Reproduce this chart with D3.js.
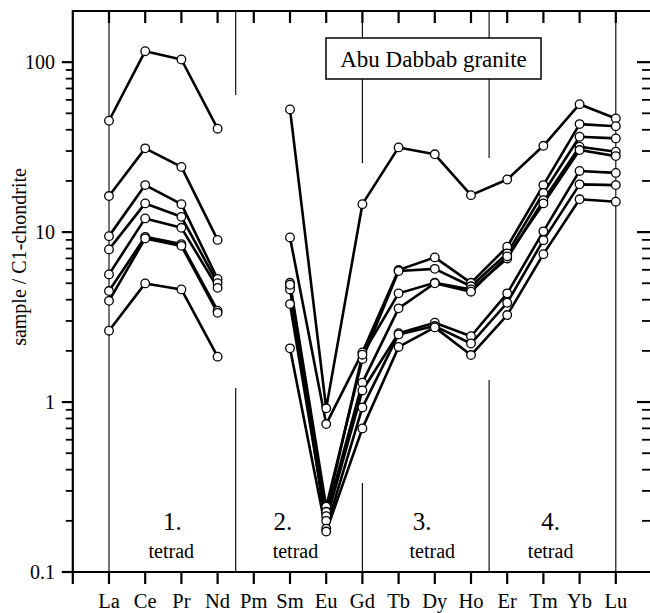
<!DOCTYPE html>
<html>
<head>
<meta charset="utf-8">
<script src="https://cdn.jsdelivr.net/npm/d3@7"></script>
<style>
  html, body { margin: 0; padding: 0; background: #fff; overflow: hidden; }
  svg { display: block; }
</style>
</head>
<body>
<svg id="chart" width="650" height="613" font-family="'Liberation Serif', 'DejaVu Serif', serif"></svg>
<script>
// REE elements along the x axis (Pm is not analysed)
const elements = ["La","Ce","Pr","Nd","Pm","Sm","Eu","Gd","Tb","Dy","Ho","Er","Tm","Yb","Lu"];

// Chondrite-normalised REE patterns, one array per sample (order as in `elements`)
const sample1 = [45.2, 116, 103.7, 40.6, null, 52.7, 0.918, 14.6, 31.5, 28.7, 16.5, 20.4, 32.2, 56.6, 46.6];
const sample2 = [16.3, 31.1, 24.2, 9.0, null, 9.3, 0.742, 1.96, 5.98, 7.1, 5.03, 8.2, 18.9, 43.2, 42.0];
const sample3 = [9.47, 18.9, 14.6, 5.3, null, 5.03, 0.242, 1.79, 5.9, 6.08, 4.8, 7.5, 17.0, 36.4, 35.6];
const sample4 = [7.91, 14.75, 12.3, 5.0, null, 4.81, 0.226, 1.9, 4.36, 5.03, 4.6, 7.0, 15.4, 31.8, 29.7];
const sample5 = [5.64, 12.04, 10.6, 4.7, null, 4.6, 0.213, 1.30, 3.56, 5.0, 4.46, 7.2, 14.75, 30.4, 28.0];
const sample6 = [4.50, 9.38, 8.5, 3.45, null, 3.77, 0.2, 1.17, 2.54, 2.93, 2.44, 4.36, 10.1, 22.9, 22.3];
const sample7 = [3.94, 9.18, 8.3, 3.35, null, 4.9, 0.18, 0.93, 2.5, 2.8, 2.21, 3.84, 8.97, 19.1, 18.9];
const sample8 = [2.63, 4.99, 4.6, 1.85, null, 2.07, 0.173, 0.70, 2.11, 2.75, 1.89, 3.25, 7.42, 15.6, 15.1];
const samples = [sample1, sample2, sample3, sample4, sample5, sample6, sample7, sample8];

// Axis ticks
const yMajorTicks = [0.1, 1, 10, 100];
const yTickLabels = ["0.1", "1", "10", "100"];

// Tetrad annotations: number, centre (element index units)
const tetradNumbers = ["1.", "2.", "3.", "4."];
const tetradCentres = [1.75, 4.8, 8.65, 12.2];
const tetradWordCentres = [1.72, 5.15, 8.93, 12.2];

// Tetrad boundaries: x in element index units, visible segments as [top, bottom] in data units
const boundaries = [
  { x: 0, segs: [[200, 0.1]] },
  { x: 3.5, segs: [[200, 64], [1.21, 0.1]] },
  { x: 7, segs: [[200, 25.5], [0.334, 0.1]] },
  { x: 10.5, segs: [[200, 27.3], [1.35, 0.1]] },
  { x: 14, segs: [[200, 0.1]] }
];

const title = "Abu Dabbab granite";
const yTitle = "sample / C1-chondrite";

const svg = d3.select("#chart");

// Scales: element index -1 sits on the left axis, index 15 on the right axis
const x = d3.scaleLinear().domain([-1, 15]).range([72.8, 652]);
const y = d3.scaleLog().domain([0.1, 200]).range([572, 11]);

const xLeft = x(-1), xRight = x(15), yTop = y(200), yBottom = y(0.1);

// Minor log ticks
const minorTicks = [];
[0.1, 1, 10, 100].forEach(d => {
  for (let k = 2; k <= 9; k++) {
    const v = d * k;
    if (v < 200) minorTicks.push(v);
  }
});

// Tetrad boundary lines
boundaries.forEach(b => {
  b.segs.forEach(s => {
    svg.append("line")
      .attr("x1", x(b.x)).attr("x2", x(b.x))
      .attr("y1", y(s[0])).attr("y2", y(s[1]))
      .attr("stroke", "#000").attr("stroke-width", 1.1);
  });
});

// Frame: top and bottom lines
svg.append("line").attr("x1", xLeft).attr("x2", xRight).attr("y1", yTop).attr("y2", yTop)
  .attr("stroke", "#000").attr("stroke-width", 2.2);
svg.append("line").attr("x1", xLeft - 10).attr("x2", xRight).attr("y1", yBottom).attr("y2", yBottom)
  .attr("stroke", "#000").attr("stroke-width", 2.2);
// Left axis line
svg.append("line").attr("x1", xLeft).attr("x2", xLeft).attr("y1", yTop - 1).attr("y2", yBottom + 12)
  .attr("stroke", "#000").attr("stroke-width", 2.2);

// Category ticks: down from the top frame and below the bottom axis
const idx = d3.range(0, 15);
svg.append("g").selectAll("line").data(idx).join("line")
  .attr("x1", d => x(d)).attr("x2", d => x(d))
  .attr("y1", yTop).attr("y2", yTop + 12)
  .attr("stroke", "#000").attr("stroke-width", 2.2);
svg.append("g").selectAll("line").data(idx).join("line")
  .attr("x1", d => x(d)).attr("x2", d => x(d))
  .attr("y1", yBottom).attr("y2", yBottom + 12)
  .attr("stroke", "#000").attr("stroke-width", 2.2);

// Element labels
svg.append("g").selectAll("text").data(elements).join("text")
  .attr("x", (d, i) => x(i)).attr("y", 608)
  .attr("text-anchor", "middle").attr("font-size", 20.5)
  .text(d => d);

// Left axis ticks (outward)
svg.append("g").selectAll("line").data(yMajorTicks).join("line")
  .attr("x1", xLeft - 11).attr("x2", xLeft).attr("y1", d => y(d)).attr("y2", d => y(d))
  .attr("stroke", "#000").attr("stroke-width", 2.2);
svg.append("g").selectAll("line").data(minorTicks).join("line")
  .attr("x1", xLeft - 7).attr("x2", xLeft).attr("y1", d => y(d)).attr("y2", d => y(d))
  .attr("stroke", "#000").attr("stroke-width", 1.8);

// Right-hand log axis (its spine sits just past the right edge); ticks point inward
const rightAxis = svg.append("g");
rightAxis.append("g").selectAll("line").data([1, 10, 100]).join("line")
  .attr("x1", 637).attr("x2", 650).attr("y1", d => y(d)).attr("y2", d => y(d))
  .attr("stroke", "#000").attr("stroke-width", 2.2);
rightAxis.append("g").selectAll("line").data(minorTicks).join("line")
  .attr("x1", 642).attr("x2", 650).attr("y1", d => y(d)).attr("y2", d => y(d))
  .attr("stroke", "#000").attr("stroke-width", 1.8);

// Left axis labels
svg.append("g").selectAll("text").data(yMajorTicks).join("text")
  .attr("x", 55).attr("y", d => y(d) + 7)
  .attr("text-anchor", "end").attr("font-size", 20)
  .text((d, i) => yTickLabels[i]);

// Y axis title
svg.append("text")
  .attr("transform", `translate(26, ${257}) rotate(-90)`)
  .attr("text-anchor", "middle").attr("font-size", 20)
  .text(yTitle);

// Tetrad labels
svg.append("g").selectAll("text").data(tetradNumbers).join("text")
  .attr("x", (d, i) => x(tetradCentres[i])).attr("y", 530)
  .attr("text-anchor", "middle").attr("font-size", 25)
  .text(d => d);
svg.append("g").selectAll("text").data(tetradNumbers).join("text")
  .attr("x", (d, i) => x(tetradWordCentres[i])).attr("y", 558)
  .attr("text-anchor", "middle").attr("font-size", 20)
  .text("tetrad");

// Title box
const boxG = svg.append("g");
boxG.append("rect")
  .attr("x", 326).attr("y", 38).attr("width", 215).attr("height", 41)
  .attr("fill", "#fff").attr("stroke", "#000").attr("stroke-width", 1.5);
boxG.append("text")
  .attr("x", 433.5).attr("y", 67).attr("text-anchor", "middle").attr("font-size", 23)
  .text(title);

// Sample patterns
const line = d3.line()
  .defined(d => d != null)
  .x((d, i) => x(i))
  .y(d => y(d));

const g = svg.append("g");
samples.forEach(s => {
  g.append("path").datum(s)
    .attr("d", line)
    .attr("fill", "none").attr("stroke", "#000")
    .attr("stroke-width", 2.6).attr("stroke-linejoin", "round");
});
samples.forEach(s => {
  g.append("g").selectAll("circle")
    .data(s.map((v, i) => ({ v, i })).filter(d => d.v != null))
    .join("circle")
    .attr("cx", d => x(d.i)).attr("cy", d => y(d.v))
    .attr("r", 4.3)
    .attr("fill", "#fff").attr("stroke", "#000").attr("stroke-width", 1.3);
});
</script>
</body>
</html>
